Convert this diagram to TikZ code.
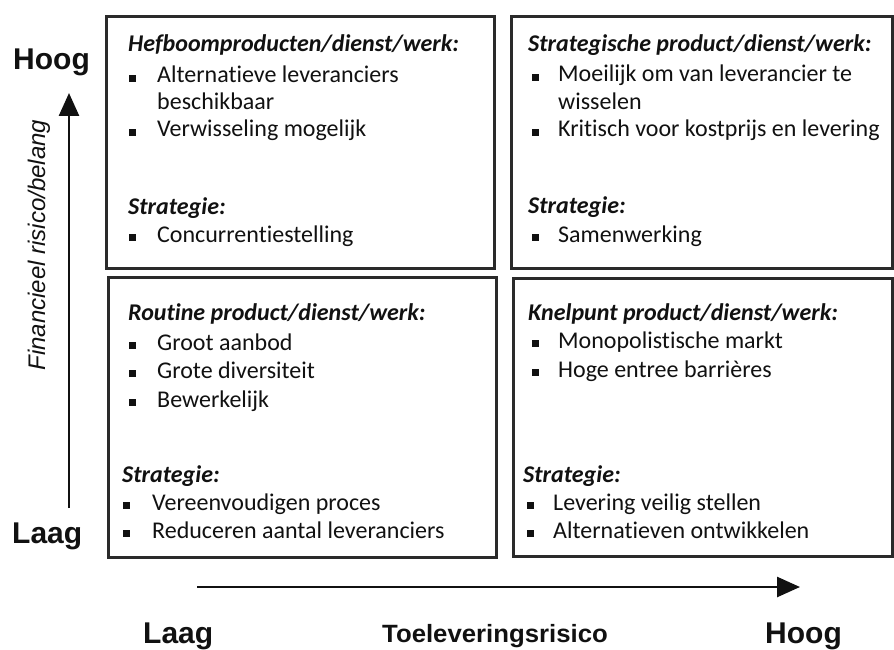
\documentclass[tikz,border=0pt]{standalone}
\usepackage{fontspec}
\setmainfont{Carlito}[RawFeature={-liga;-clig;-dlig}]
\newfontfamily\arialf{Liberation Sans}
\usetikzlibrary{arrows.meta}
\definecolor{boxline}{HTML}{2A2A2A}
\definecolor{ink}{HTML}{111111}
\newcommand{\bodyf}{\fontsize{24}{27}\selectfont}
\tikzset{
  quad/.style={draw=boxline, line width=3pt, anchor=north west, inner sep=0pt},
  txt/.style={anchor=base west, inner sep=0pt, text=ink, font=\bodyf},
  hdr/.style={txt, font=\bodyf\bfseries\itshape},
  bulsq/.style={fill=ink, inner sep=0pt, minimum size=7pt, anchor=south west},
  axlab/.style={inner sep=0pt, text=ink, anchor=base west, font=\arialf\bfseries\fontsize{30}{34}\selectfont},
  axarrow/.style={draw=ink, line width=2.6pt, -{Triangle[length=23pt,width=20pt]}}
}
\begin{document}
\begin{tikzpicture}[x=1pt,y=-1pt]
\useasboundingbox (0,0) rectangle (894,650);
\fill[white] (0,0) rectangle (894,650);

% quadrants
\node[quad, minimum width=388pt, minimum height=252pt] (q1) at (105,15) {};
\node[quad, minimum width=381pt, minimum height=252pt] (q2) at (510,15) {};
\node[quad, minimum width=388pt, minimum height=280pt] (q3) at (107,276) {};
\node[quad, minimum width=379pt, minimum height=278pt] (q4) at (512,277) {};

% Q1 top-left
\node[hdr] (h1) at (128,52) {Hefboomproducten/dienst/werk:};
\node[bulsq] (b11) at (129,82) {};
\node[txt] (t11) at (157,83) {Alternatieve leveranciers};
\node[txt] (t12) at (157,110) {beschikbaar};
\node[bulsq] (b12) at (129,136) {};
\node[txt] (t13) at (157,137) {Verwisseling mogelijk};
\node[hdr] (s1) at (128,214) {Strategie:};
\node[bulsq] (b13) at (129,241) {};
\node[txt] (t14) at (157,242) {Concurrentiestelling};

% Q2 top-right
\node[hdr] (h2) at (528,52) {Strategische product/dienst/werk:};
\node[bulsq] (b21) at (532,81) {};
\node[txt] (t21) at (558,82) {Moeilijk om van leverancier te};
\node[txt] (t22) at (558,110) {wisselen};
\node[bulsq] (b22) at (532,136) {};
\node[txt] (t23) at (558,137) {Kritisch voor kostprijs en levering};
\node[hdr] (s2) at (528,213) {Strategie:};
\node[bulsq] (b23) at (532,241) {};
\node[txt] (t24) at (558,242) {Samenwerking};

% Q3 bottom-left
\node[hdr] (h3) at (128,320) {Routine product/dienst/werk:};
\node[bulsq] (b31) at (129,349) {};
\node[txt] (t31) at (157,350) {Groot aanbod};
\node[bulsq] (b32) at (129,377) {};
\node[txt] (t32) at (157,378) {Grote diversiteit};
\node[bulsq] (b33) at (129,406) {};
\node[txt] (t33) at (157,407) {Bewerkelijk};
\node[hdr] (s3) at (122,482) {Strategie:};
\node[bulsq] (b34) at (123,509) {};
\node[txt] (t34) at (152,510) {Vereenvoudigen proces};
\node[bulsq] (b35) at (123,537) {};
\node[txt] (t35) at (152,538) {Reduceren aantal leveranciers};

% Q4 bottom-right
\node[hdr] (h4) at (528,320) {Knelpunt product/dienst/werk:};
\node[bulsq] (b41) at (532,347) {};
\node[txt] (t41) at (558,348) {Monopolistische markt};
\node[bulsq] (b42) at (532,376) {};
\node[txt] (t42) at (558,377) {Hoge entree barrières};
\node[hdr] (s4) at (523,482) {Strategie:};
\node[bulsq] (b43) at (527,509) {};
\node[txt] (t43) at (553,510) {Levering veilig stellen};
\node[bulsq] (b44) at (527,537) {};
\node[txt] (t44) at (553,538) {Alternatieven ontwikkelen};

% vertical axis
\node[axlab] (yhigh) at (13,70) {Hoog};
\node[axlab] (ylow) at (12,543) {Laag};
\coordinate (vs) at (69,508);
\coordinate (ve) at (69,93);
\draw[axarrow] (vs) -- (ve);
\node[inner sep=0pt, text=ink, rotate=90, anchor=base,
      font=\arialf\itshape\fontsize{24}{27}\selectfont] (ylab) at (45,245) {Financieel risico/belang};

% horizontal axis
\coordinate (hs) at (197,587);
\coordinate (he) at (800,587);
\draw[axarrow] (hs) -- (he);
\node[axlab] (xlow) at (143,643) {Laag};
\node[axlab] (xhigh) at (765,643) {Hoog};
\node[inner sep=0pt, text=ink, anchor=base west, xscale=1.03,
      font=\arialf\bfseries\fontsize{25}{28}\selectfont] (xlab) at (382,642) {Toeleveringsrisico};
\end{tikzpicture}
\end{document}
